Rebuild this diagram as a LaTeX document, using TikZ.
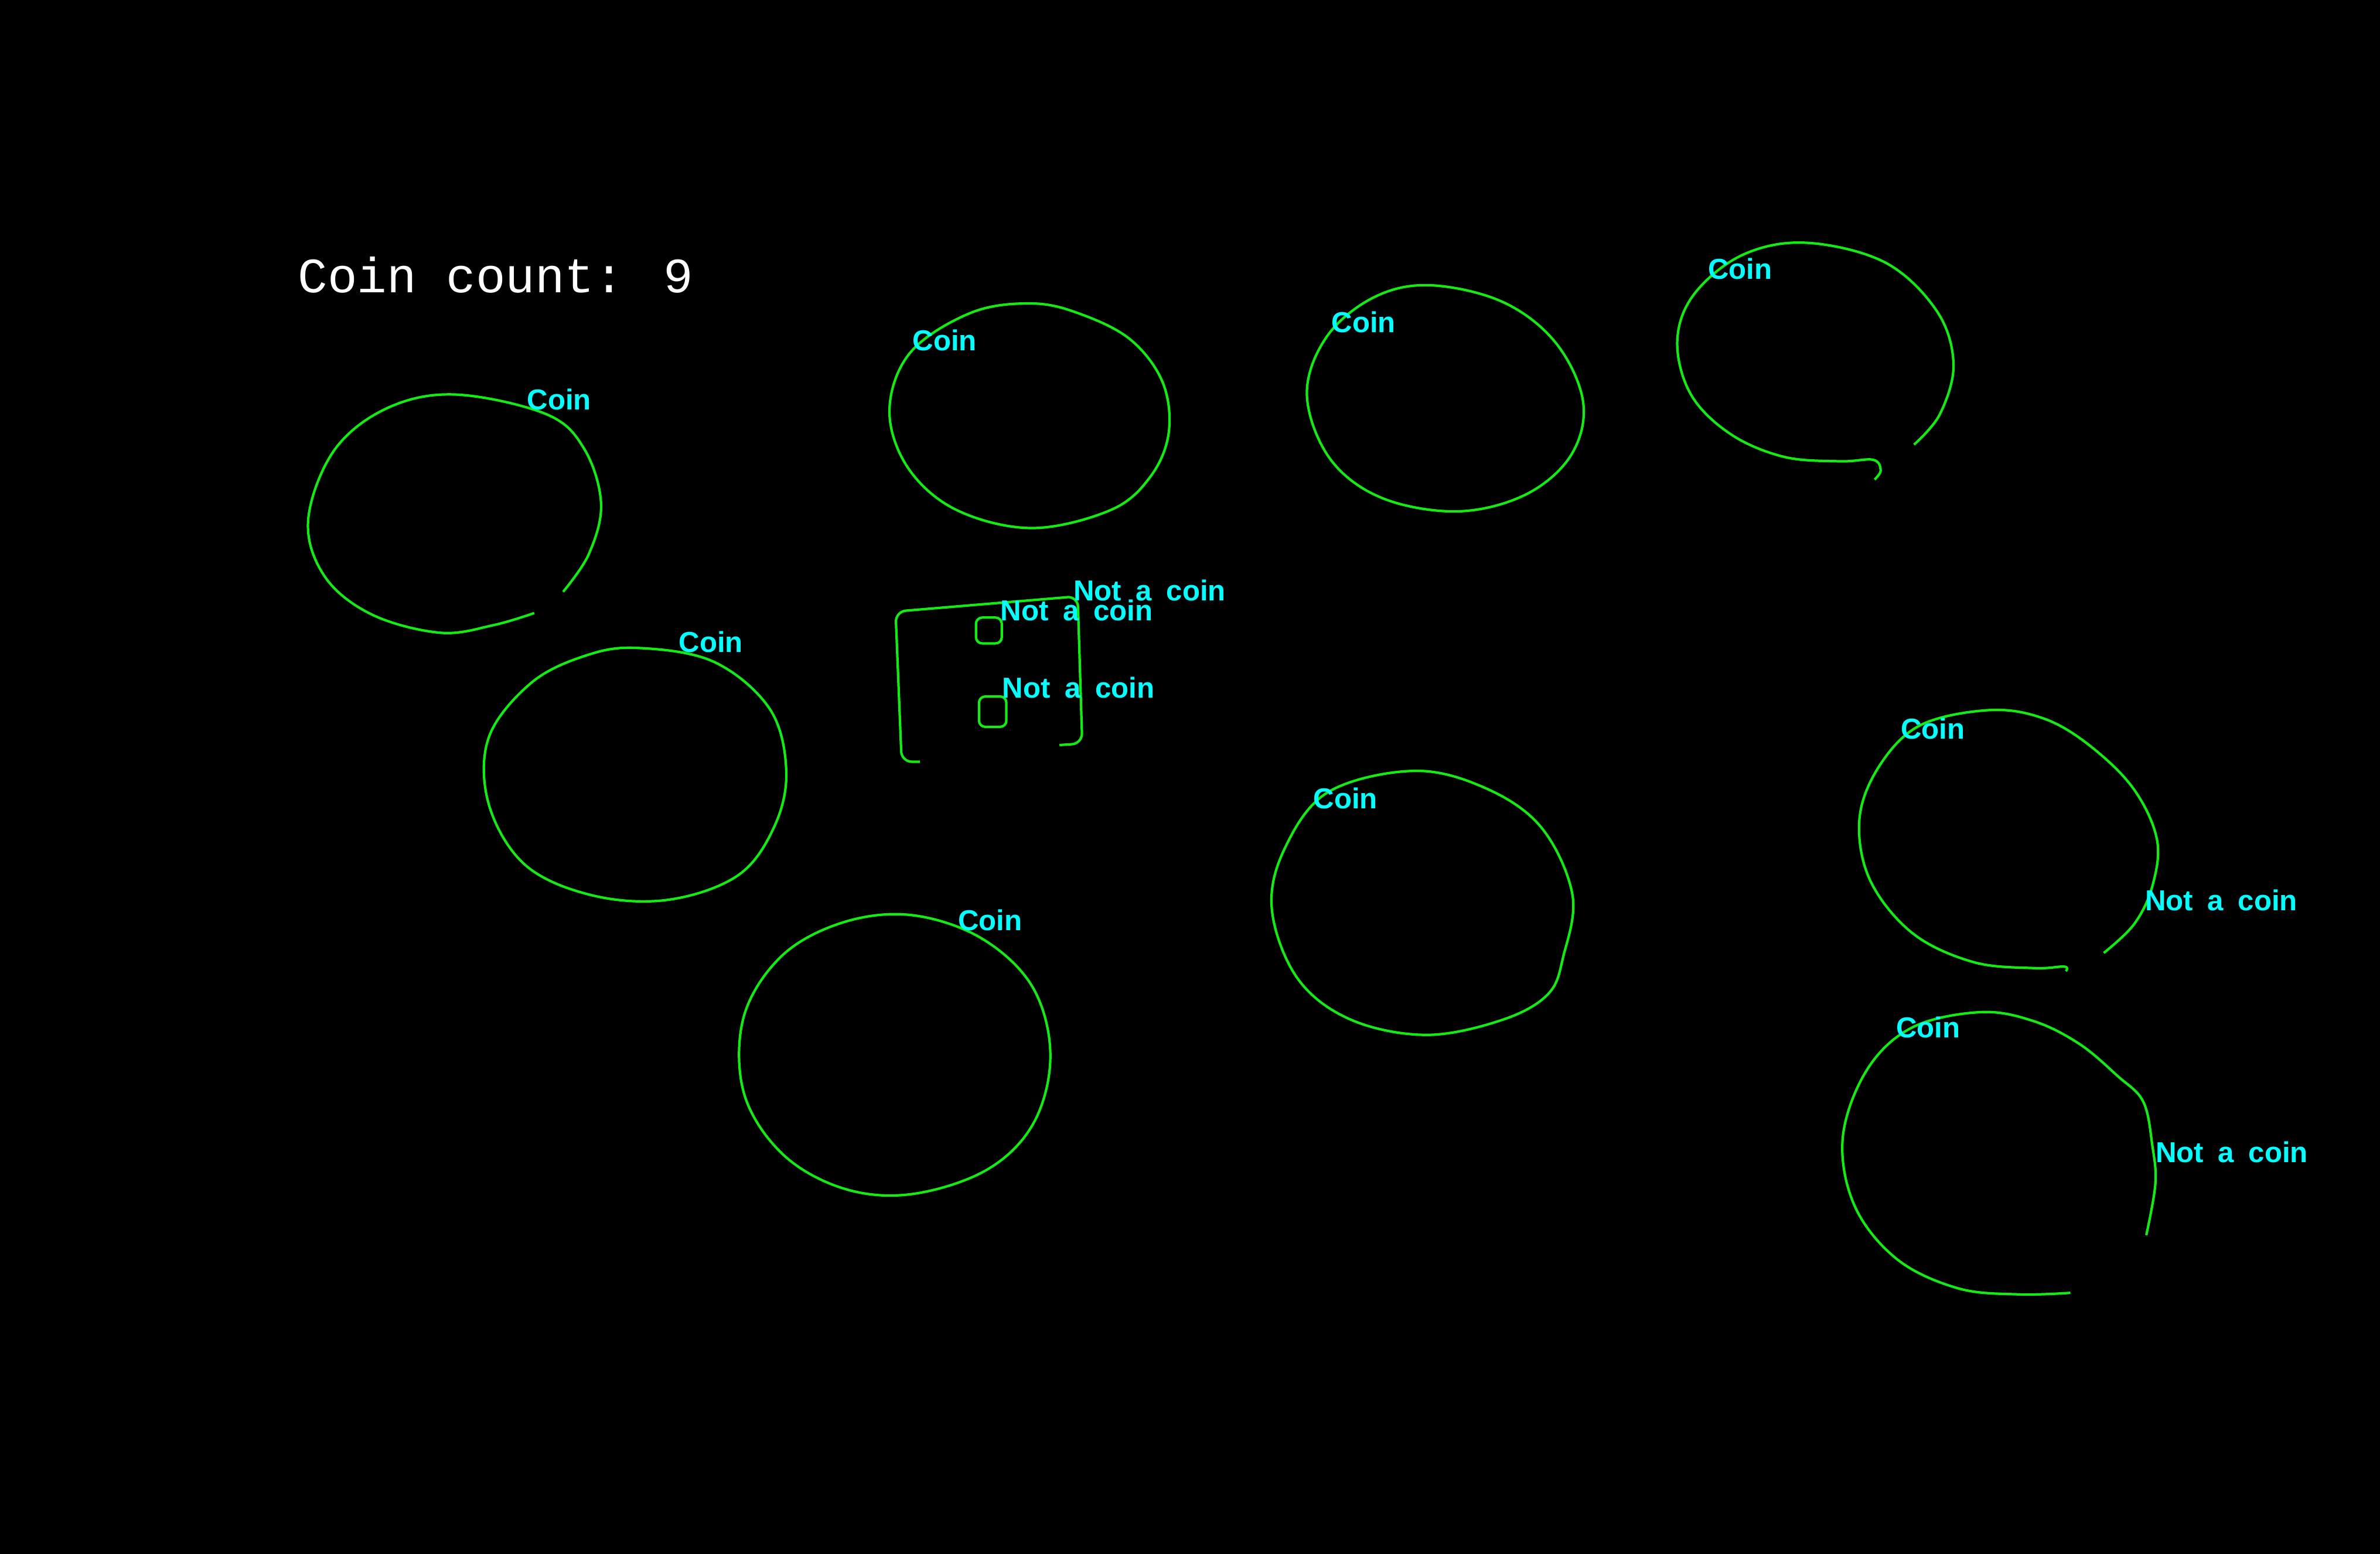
\documentclass[tikz,border=0pt]{standalone}
\usepackage{fontspec}
\usepackage{tikz}
\newfontfamily\countfont{Liberation Mono}
\newfontfamily\labelfont[WordSpace=1.8]{Liberation Sans}
\definecolor{contourgreen}{RGB}{20,235,20}
\definecolor{labelcyan}{RGB}{0,255,255}

\begin{document}
\begin{tikzpicture}
		[x=0.025906cm, y=-0.025906cm,
		contour/.style={draw=contourgreen, line width=1.2pt, line join=round},
		tag/.style={text=labelcyan, font=\labelfont\bfseries\fontsize{14}{14}\selectfont, inner sep=0pt, anchor=base west},
		counter/.style={text=white, font=\countfont\fontsize{24}{24}\selectfont, inner sep=0pt, anchor=base west}]
		\fill[black] (0,0) rectangle (1568,1024);
		\useasboundingbox (0,0) rectangle (1568,1024);
		% count
		\node[counter] (count) at (196,193) {Coin count: 9};
		% coins
		\draw[contour] plot[smooth, tension=0.6] coordinates {(371,390) (388,365) (396,332) (385,296) (360,273) (300,260) (255,269) (220,297) (203,343) (214,380) (245,405) (290,417) (325,412) (352,404)};
		\draw[contour] plot[smooth cycle, tension=0.6] coordinates {(680,200) (712,207) (745,224) (766,252) (770,285) (758,314) (732,336) (680,348) (630,336) (598,308) (586,270) (600,232) (640,206)};
		\draw[contour] plot[smooth cycle, tension=0.6] coordinates {(942,188) (990,199) (1025,226) (1043,265) (1035,300) (1005,326) (960,337) (910,328) (876,302) (861,260) (874,222) (905,196)};
		\draw[contour] plot[smooth, tension=0.6] coordinates {(1261,293) (1278,273) (1287,240) (1276,205) (1242,173) (1190,160) (1148,168) (1116,194) (1105,225) (1114,260) (1140,286) (1175,301) (1212,304) (1234,303) (1239,310) (1235,316)};
		\draw[contour] plot[smooth cycle, tension=0.6] coordinates {(420,427) (470,436) (507,467) (518,508) (510,545) (486,577) (440,593) (390,590) (346,570) (322,530) (322,486) (350,450) (386,432)};
		\draw[contour] plot[smooth cycle, tension=0.6] coordinates {(600,603) (646,618) (680,650) (692,695) (681,740) (650,771) (600,787) (555,783) (515,760) (490,720) (490,670) (515,630) (555,608)};
		\draw[contour] plot[smooth cycle, tension=0.6] coordinates {(932,508) (980,520) (1016,546) (1036,590) (1030,630) (1020,655) (990,672) (940,682) (890,672) (855,645) (838,600) (846,560) (875,522)};
		\draw[contour] plot[smooth, tension=0.6] coordinates {(1386,628) (1406,609) (1418,584) (1421,553) (1405,519) (1375,490) (1345,473) (1310,468) (1265,478) (1238,505) (1225,540) (1232,580) (1260,615) (1300,634) (1340,638) (1360,637) (1361,640)};
		\draw[contour] plot[smooth, tension=0.6] coordinates {(1414,814) (1420,780) (1418,755) (1412,726) (1395,709) (1370,688) (1340,673) (1305,667) (1260,677) (1230,705) (1214,750) (1222,795) (1250,830) (1290,849) (1330,853) (1364,852)};
		% frame and holes
		\draw[contour, rounded corners=5] (606,502) -- (594,502) -- (590,403) -- (710,393) -- (713,490) -- (698,491);
		\draw[contour, rounded corners=3] (643,407) rectangle (660,424);
		\draw[contour, rounded corners=3] (645,459) rectangle (663,479);
		% labels
		\node[tag] (c1) at (347,270) {Coin};
		\node[tag] (c2) at (601,231) {Coin};
		\node[tag] (c3) at (877,219) {Coin};
		\node[tag] (c4) at (1125,184) {Coin};
		\node[tag] (c5) at (447,430) {Coin};
		\node[tag] (c6) at (631,613) {Coin};
		\node[tag] (c7) at (865,533) {Coin};
		\node[tag] (c8) at (1252,487) {Coin};
		\node[tag] (c9) at (1249,684) {Coin};
		\node[tag] (n1) at (707,396) {Not a coin};
		\node[tag] (n2) at (659,409) {Not a coin};
		\node[tag] (n3) at (660,460) {Not a coin};
		\node[tag] (n4) at (1413,600) {Not a coin};
		\node[tag] (n5) at (1420,766) {Not a coin};
	\end{tikzpicture}
\end{document}
